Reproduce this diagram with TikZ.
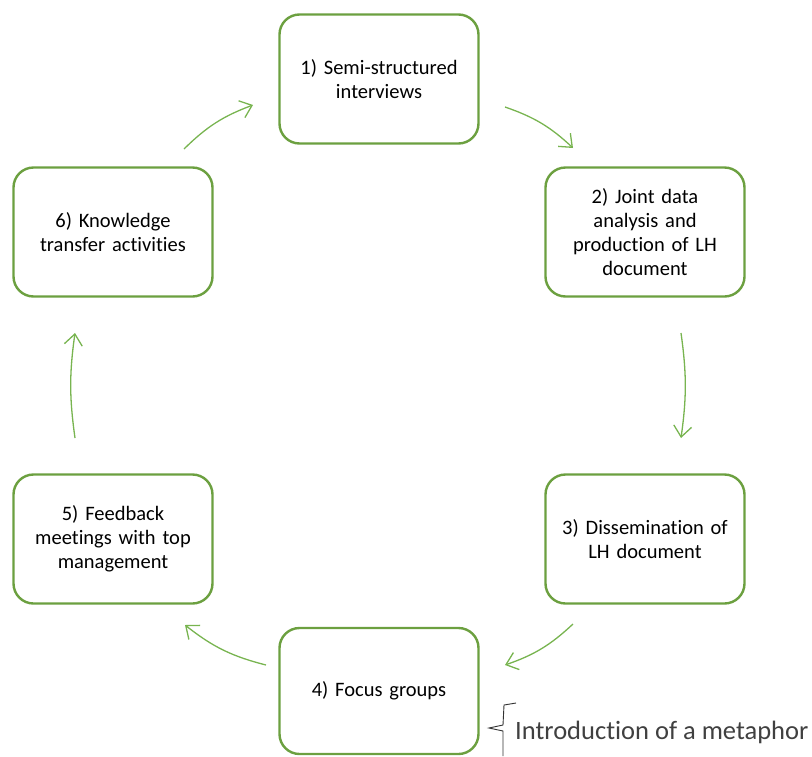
\documentclass[tikz,border=0pt]{standalone}
\usepackage{fontspec}
\setmainfont{Carlito}[Ligatures={NoCommon}]
\usetikzlibrary{arrows.meta}
\definecolor{boxgreen}{RGB}{108,160,64}
\definecolor{arrgreen}{RGB}{120,180,80}
\definecolor{txtgray}{RGB}{64,64,64}
\tikzset{
  stagebox/.style={draw=boxgreen, line width=2.4pt, rounded corners=20pt, minimum width=199pt, minimum height=129pt, align=center, font=\fontsize{20.5}{24}\selectfont, text width=190pt},
  cyc/.style={draw=arrgreen, line width=1.3pt, -{Straight Barb[length=11pt,width=18pt,line width=1.3pt]}, bend left=18}
}
\begin{document}
\begin{tikzpicture}[x=1pt,y=-1pt]
\useasboundingbox (0,0) rectangle (812,756);
\node[stagebox] (s1) at (379,79) {1) Semi-structured\\interviews};
\node[stagebox] (s2) at (645,232) {2) Joint data\\analysis and\\production of LH\\document};
\node[stagebox] (s3) at (645,539) {3) Dissemination of\\LH document};
\node[stagebox, minimum height=126pt] (s4) at (379,691) {4) Focus groups};
\node[stagebox] (s5) at (113,539) {5) Feedback\\meetings with top\\management};
\node[stagebox] (s6) at (113,232) {6) Knowledge\\transfer activities};
\coordinate (a1s) at (505,107); \coordinate (a1e) at (573,148);
\coordinate (a2s) at (681,333); \coordinate (a2e) at (681,438);
\coordinate (a3s) at (573,624); \coordinate (a3e) at (505,665);
\coordinate (a4s) at (266,665); \coordinate (a4e) at (185,625);
\coordinate (a5s) at (75,438);  \coordinate (a5e) at (75,333);
\coordinate (a6s) at (184,149); \coordinate (a6e) at (253,105);
\draw[cyc, bend left=12] (a1s) to (a1e);
\draw[cyc, bend left=8] (a2s) to (a2e);
\draw[cyc, bend left=12] (a3s) to (a3e);
\draw[cyc, bend left=12] (a4s) to (a4e);
\draw[cyc, bend left=8] (a5s) to (a5e);
\draw[cyc, bend left=12] (a6s) to (a6e);
\node[anchor=base west, text=txtgray, font=\fontsize{26.5}{30}\selectfont, inner sep=0pt] (meta) at (515,739) {Introduction of a metaphor};
\draw[black!80, line width=0.9pt] (516,703) -- (504,705) -- (503,725) -- (489,728) -- (503,731) -- (503,756);
\end{tikzpicture}
\end{document}
